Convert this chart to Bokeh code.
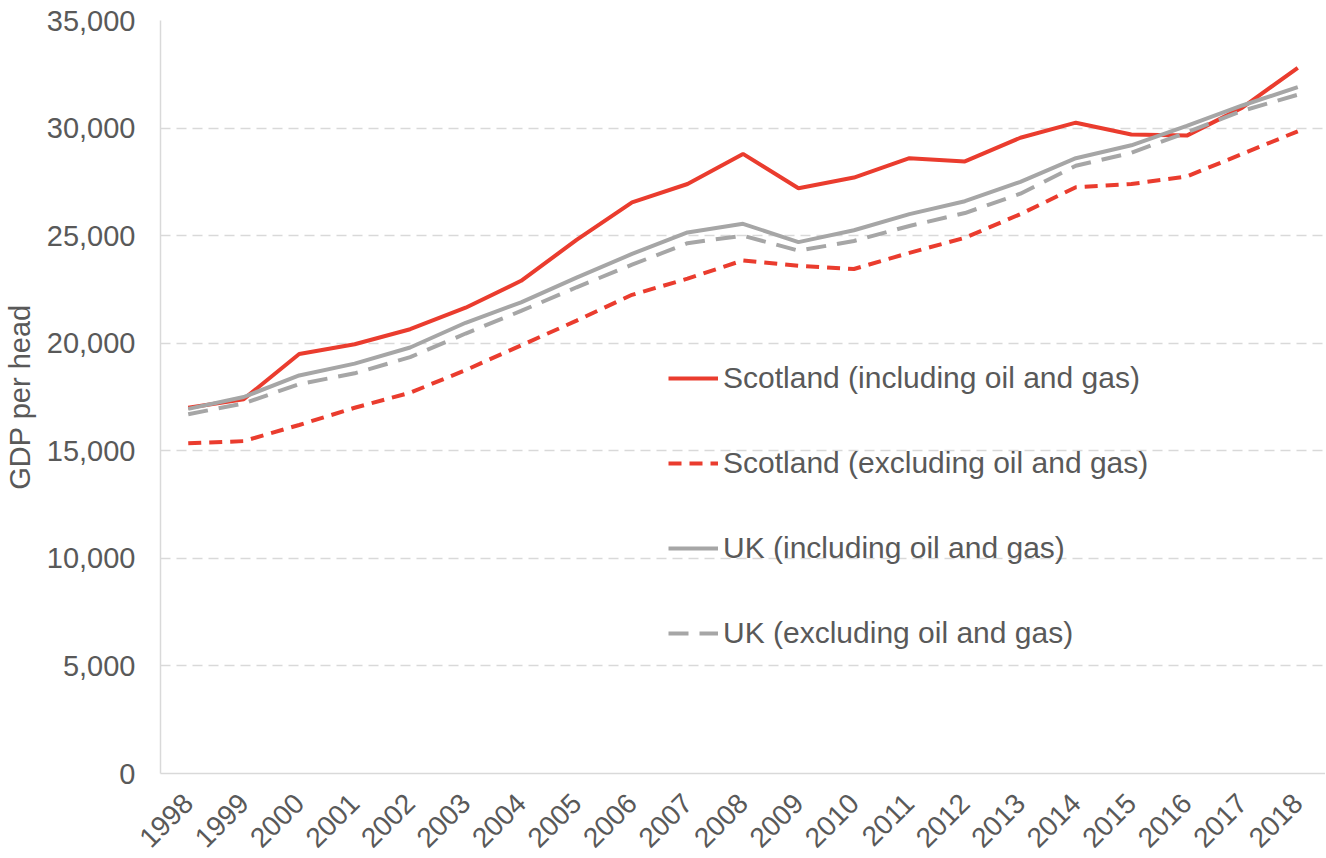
from math import pi
from bokeh.plotting import figure
from bokeh.models import Range1d, FactorRange, FixedTicker, NumeralTickFormatter, Legend, LegendItem
from bokeh.embed import file_html
from bokeh.resources import INLINE

years = [str(y) for y in range(1998, 2019)]
scot_incl = [17000, 17400, 19500, 19950, 20650, 21650, 22900, 24800, 26550, 27400, 28800,
             27200, 27700, 28600, 28450, 29550, 30250, 29700, 29650, 30950, 32800]
scot_excl = [15350, 15450, 16200, 17000, 17700, 18750, 19900, 21050, 22250, 23000, 23850,
             23600, 23450, 24200, 24900, 26000, 27250, 27400, 27750, 28800, 29850]
uk_incl = [16950, 17500, 18500, 19050, 19800, 20950, 21900, 23050, 24150, 25150, 25550,
           24700, 25250, 26000, 26600, 27500, 28600, 29200, 30100, 31050, 31900]
uk_excl = [16700, 17200, 18100, 18600, 19350, 20450, 21500, 22600, 23650, 24650, 25000,
           24300, 24750, 25450, 26050, 26950, 28250, 28850, 29800, 30800, 31550]
y_ticks = [0, 5000, 10000, 15000, 20000, 25000, 30000, 35000]

RED = "#EA3C2E"
GREY = "#A6A6A6"
TXT = "#595959"
FONT = "Liberation Sans"

p = figure(x_range=FactorRange(*years, range_padding=0), y_range=Range1d(0, 35000),
           frame_width=1165, frame_height=753,
           min_border_left=160, min_border_right=0, min_border_top=20, min_border_bottom=10,
           output_backend="svg", toolbar_location=None)
p.outline_line_color = None

r1 = p.line(years, scot_incl, line_color=RED, line_width=4)
r2 = p.line(years, scot_excl, line_color=RED, line_width=4, line_dash="13 8")
r3 = p.line(years, uk_incl, line_color=GREY, line_width=4)
r4 = p.line(years, uk_excl, line_color=GREY, line_width=4, line_dash="20 11")

p.xgrid.grid_line_color = None
p.ygrid.grid_line_color = "#D9D9D9"
p.ygrid.grid_line_width = 1.5
p.ygrid.grid_line_dash = "10 6"

p.yaxis.ticker = FixedTicker(ticks=y_ticks)
p.yaxis.formatter = NumeralTickFormatter(format="0,0")
p.yaxis.axis_label = "GDP per head"
p.yaxis.axis_label_text_font = FONT
p.yaxis.axis_label_text_font_size = "29px"
p.yaxis.axis_label_text_font_style = "normal"
p.yaxis.axis_label_text_color = TXT
p.yaxis.axis_label_standoff = 8
p.yaxis.major_label_standoff = 25

p.xaxis.major_label_orientation = pi / 4
p.xaxis.major_label_standoff = 25

for ax in (p.xaxis, p.yaxis):
    ax.axis_line_color = "#D9D9D9"
    ax.axis_line_width = 1.5
    ax.major_tick_line_color = None
    ax.minor_tick_line_color = None
    ax.major_tick_in = 0
    ax.major_tick_out = 0
    ax.major_label_text_font = FONT
    ax.major_label_text_color = TXT
p.yaxis.major_label_text_font_size = "29px"
p.xaxis.major_label_text_font_size = "28px"

legend = Legend(items=[
    LegendItem(label="Scotland (including oil and gas)", renderers=[r1]),
    LegendItem(label="Scotland (excluding oil and gas)", renderers=[r2]),
    LegendItem(label="UK (including oil and gas)", renderers=[r3]),
    LegendItem(label="UK (excluding oil and gas)", renderers=[r4]),
], location=(508, 122))
legend.background_fill_alpha = 0
legend.border_line_alpha = 0
legend.padding = 0
legend.margin = 0
legend.glyph_width = 50
legend.glyph_height = 36
legend.label_height = 36
legend.label_standoff = 5
legend.spacing = 49
legend.label_text_font = FONT
legend.label_text_font_size = "30px"
legend.label_text_color = TXT
p.add_layout(legend, "center")

open("out.html", "w").write(file_html(p, INLINE))
